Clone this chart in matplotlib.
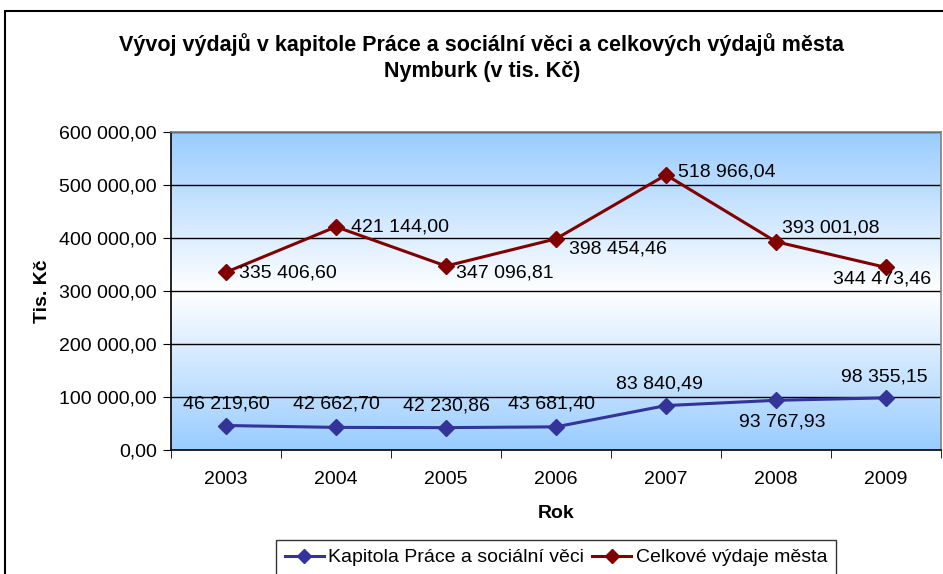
import matplotlib
matplotlib.use("Agg")
import matplotlib.pyplot as plt
import numpy as np
from matplotlib.colors import LinearSegmentedColormap
from matplotlib.patches import Rectangle
from matplotlib.lines import Line2D

plt.rcParams['font.family'] = ['Liberation Sans', 'DejaVu Sans']

years = ["2003", "2004", "2005", "2006", "2007", "2008", "2009"]
kapitola = [46219.60, 42662.70, 42230.86, 43681.40, 83840.49, 93767.93, 98355.15]
celkove = [335406.60, 421144.00, 347096.81, 398454.46, 518966.04, 393001.08, 344473.46]
y_ticks = [0, 100000, 200000, 300000, 400000, 500000, 600000]

# label offsets (pixels) and alignment per point
kap_offsets = [(0, 22, 'center'), (0, 23, 'center'), (0, 22, 'center'), (-5, 23, 'center'),
               (-7, 22, 'center'), (6, -22, 'center'), (-2, 21, 'center')]
cel_offsets = [(13, -1, 'left'), (15, 0, 'left'), (10, -7, 'left'), (13, -10, 'left'),
               (12, 3, 'left'), (6, 14, 'left'), (-4, -12, 'center')]

BLUE = '#333399'
RED = '#800000'


def fmt(v):
    s = f"{v:,.2f}"
    return s.replace(",", " ").replace(".", ",")


W, H = 943, 574
fig = plt.figure(figsize=(W / 100, H / 100), dpi=100)
ax = fig.add_axes([171 / W, 1 - 450 / H, (941 - 171) / W, (450 - 132) / H])

# vertical gradient background: blue at edges, white in the middle
cmap = LinearSegmentedColormap.from_list('bg', ['#99CCFF', '#FFFFFF', '#99CCFF'])
t = np.linspace(0, 1, 256).reshape(-1, 1)
ax.imshow(t, aspect='auto', cmap=cmap, extent=[0, 1, 0, 1], transform=ax.transAxes,
          zorder=0, interpolation='bilinear')

x = np.arange(len(years))
ax.set_xlim(-0.5, len(years) - 0.5)
ax.set_ylim(0, 600000)

for yv in y_ticks[1:]:
    ax.axhline(yv, color='black', lw=1.0, zorder=1)

ax.plot(x, kapitola, color=BLUE, lw=2.2, marker='D', markersize=8.5, zorder=3,
        label='Kapitola Práce a sociální věci')
ax.plot(x, celkove, color=RED, lw=2.2, marker='D', markersize=8.5, zorder=3,
        label='Celkové výdaje města')

for xi, v, (dx, dy, ha) in zip(x, kapitola, kap_offsets):
    ax.annotate(fmt(v), (xi, v), xytext=(dx, dy), textcoords='offset pixels',
                ha=ha, va='center', fontsize=14, color='black', zorder=4)
for xi, v, (dx, dy, ha) in zip(x, celkove, cel_offsets):
    ax.annotate(fmt(v), (xi, v), xytext=(dx, dy), textcoords='offset pixels',
                ha=ha, va='center', fontsize=14, color='black', zorder=4)

ax.set_yticks(y_ticks)
ax.set_yticklabels([fmt(v) for v in y_ticks], fontsize=14)
ax.set_xticks(x)
ax.set_xticklabels(years, fontsize=14)
ax.set_xticks(np.arange(-0.5, len(years)), minor=True)
ax.tick_params(axis='x', which='major', length=0, pad=15)
ax.tick_params(axis='x', which='minor', length=6, direction='out', color='black')
ax.tick_params(axis='y', length=6, direction='out', color='black', pad=4)

for side, sp in ax.spines.items():
    sp.set_color('#808080')
    sp.set_linewidth(1.2)
ax.spines['left'].set_color('black')
ax.spines['bottom'].set_color('black')

ax.set_ylabel('Tis. Kč', fontsize=14, fontweight='bold', labelpad=6)
ax.set_xlabel('Rok', fontsize=14, fontweight='bold', labelpad=12)

fig.text(482 / W, 1 - 45 / H, 'Vývoj výdajů v kapitole Práce a sociální věci a celkových výdajů města',
         ha='center', va='center', fontsize=15.5, fontweight='bold')
fig.text(482 / W, 1 - 72 / H, 'Nymburk (v tis. Kč)',
         ha='center', va='center', fontsize=15.5, fontweight='bold')

# outer chart frame
fig.add_artist(Rectangle((5 / W, -0.1), 1.1, 1 - 11 / H + 0.1, transform=fig.transFigure,
                         fill=False, edgecolor='black', lw=1.5))

handles = [Line2D([], [], color=BLUE, lw=2.2, marker='D', markersize=7),
           Line2D([], [], color=RED, lw=2.2, marker='D', markersize=7)]
leg = fig.legend(handles, ['Kapitola Práce a sociální věci', 'Celkové výdaje města'],
                 loc='upper center', bbox_to_anchor=(556 / W, 1 - 540 / H), ncol=2,
                 fontsize=14, frameon=True, fancybox=False, edgecolor='black',
                 handlelength=2.0, handletextpad=0.25, columnspacing=0.4,
                 borderpad=0.45, borderaxespad=0)
leg.get_frame().set_linewidth(1.0)

fig.savefig('out.png', dpi=100)
